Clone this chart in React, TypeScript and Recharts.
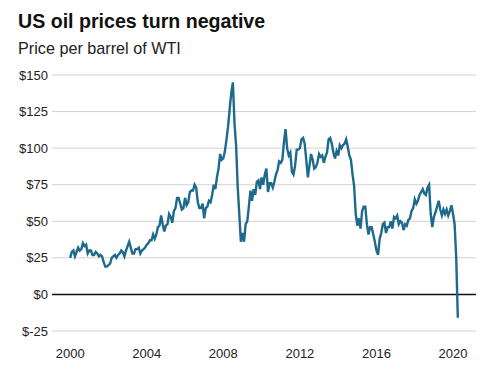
import React from "react";
import {
	CartesianGrid,
	Line,
	LineChart,
	ReferenceLine,
	XAxis,
	YAxis,
} from "recharts";

// WTI price per barrel, one value per month, Jan 2000 to Apr 2020
const startYear = 2000;
const prices: number[] = [
	// 2000
	25, 29, 30, 26, 29, 32, 30, 31, 35, 33, 34, 28,
	// 2001
	30, 30, 27, 27, 29, 28, 26, 27, 26, 22, 19, 19,
	// 2002
	20, 21, 25, 26, 27, 25, 27, 28, 30, 29, 26, 30,
	// 2003
	33, 36, 32, 28, 28, 31, 31, 32, 28, 30, 31, 32,
	// 2004
	34, 35, 37, 37, 41, 38, 41, 46, 47, 54, 48, 43,
	// 2005
	47, 48, 55, 53, 49, 57, 59, 66, 66, 62, 58, 59,
	// 2006
	66, 61, 63, 70, 71, 71, 75, 73, 63, 59, 59, 62,
	// 2007
	52, 59, 60, 64, 63, 68, 75, 72, 80, 86, 96, 92,
	// 2008
	93, 98, 106, 115, 127, 138, 145, 117, 102, 74, 55, 36,
	// 2009
	42, 36, 48, 50, 60, 71, 64, 72, 68, 77, 78, 72,
	// 2010
	80, 75, 82, 86, 70, 76, 76, 73, 77, 82, 85, 91,
	// 2011
	90, 92, 104, 113, 100, 95, 97, 84, 82, 88, 99, 99,
	// 2012
	100, 106, 107, 103, 92, 80, 88, 96, 92, 86, 87, 90,
	// 2013
	96, 94, 95, 90, 94, 97, 106, 107, 103, 97, 93, 98,
	// 2014
	95, 102, 100, 102, 103, 106, 101, 95, 92, 82, 74, 55,
	// 2015
	47, 52, 45, 57, 60, 60, 48, 41, 46, 46, 41, 36,
	// 2016
	30, 27, 38, 42, 48, 49, 42, 46, 46, 50, 45, 53,
	// 2017
	52, 54, 48, 50, 49, 44, 48, 47, 51, 52, 57, 59,
	// 2018
	65, 62, 64, 68, 70, 72, 69, 68, 73, 75, 55, 46,
	// 2019
	53, 56, 60, 64, 58, 54, 58, 55, 58, 54, 57, 61,
	// 2020
	55, 48, 25, -16,
];

const yearTicks = [2000, 2004, 2008, 2012, 2016, 2020];
const priceTicks = [-25, 0, 25, 50, 75, 100, 125, 150];

const chartData = prices.map((price, i) => ({
	date: startYear + i / 12,
	price,
}));

const font = "'Liberation Sans', Arial, Helvetica, sans-serif";

export default function App() {
	return (
		<div
			style={{
				position: "absolute",
				left: 0,
				top: 0,
				width: 500,
				height: 374,
				background: "#fff",
				fontFamily: font,
				color: "#111",
			}}
		>
			<div
				style={{
					position: "absolute",
					left: 18,
					top: 8.5,
					fontSize: 19.6,
					fontWeight: "bold",
					lineHeight: "24px",
					whiteSpace: "nowrap",
				}}
			>
				US oil prices turn negative
			</div>
			<div
				style={{
					position: "absolute",
					left: 18,
					top: 37.5,
					fontSize: 16.2,
					lineHeight: "20px",
					color: "#222",
					whiteSpace: "nowrap",
				}}
			>
				Price per barrel of WTI
			</div>
			<div style={{ position: "absolute", left: 0, top: 0 }}>
				<LineChart
					width={500}
					height={374}
					data={chartData}
					margin={{ top: 75, right: 24, bottom: 13, left: 0 }}
				>
					<CartesianGrid vertical={false} stroke="#d2d2d2" strokeWidth={1} />
					<XAxis
						dataKey="date"
						type="number"
						domain={[1999.05, 2021.2]}
						ticks={yearTicks}
						axisLine={false}
						tickLine={false}
						tickSize={0}
						tickMargin={18}
						height={30}
						tick={{ fontSize: 13, fill: "#222", fontFamily: font }}
					/>
					<YAxis
						type="number"
						domain={[-25, 150]}
						ticks={priceTicks}
						axisLine={false}
						tickLine={false}
						tickSize={0}
						tickMargin={4}
						width={52}
						tickFormatter={(v: number) => `$${v}`}
						tick={{ fontSize: 13, fill: "#222", fontFamily: font }}
					/>
					<ReferenceLine y={0} stroke="#111" strokeWidth={1.5} />
					<Line
						type="linear"
						dataKey="price"
						stroke="#1d6a8c"
						strokeWidth={2.4}
						dot={false}
						isAnimationActive={false}
					/>
				</LineChart>
			</div>
		</div>
	);
}
